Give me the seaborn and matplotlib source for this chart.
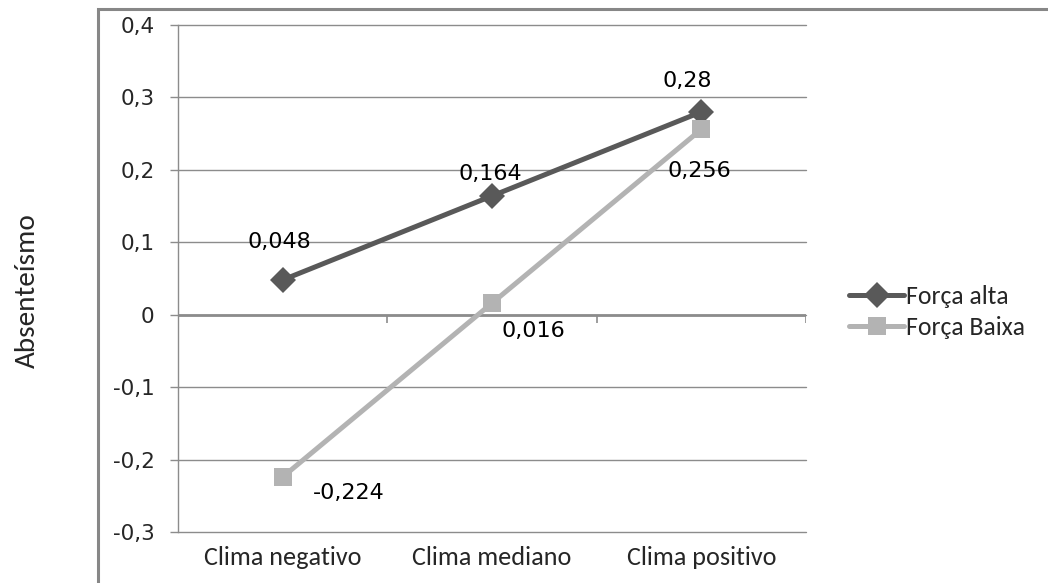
import matplotlib
matplotlib.use("Agg")
import matplotlib.pyplot as plt
from matplotlib.patches import Rectangle
import seaborn as sns
import pandas as pd

categories = ["Clima negativo", "Clima mediano", "Clima positivo"]
forca_alta = [0.048, 0.164, 0.28]
forca_baixa = [-0.224, 0.016, 0.256]
series_names = ["Força alta", "Força Baixa"]
y_ticks = [-0.3, -0.2, -0.1, 0, 0.1, 0.2, 0.3, 0.4]
y_tick_labels = ["-0,3", "-0,2", "-0,1", "0", "0,1", "0,2", "0,3", "0,4"]
alta_labels = ["0,048", "0,164", "0,28"]
baixa_labels = ["-0,224", "0,016", "0,256"]

sns.set_theme(style="white")
plt.rcParams["font.family"] = ["DejaVu Sans"]
calib = ["Carlito", "Roboto", "DejaVu Sans"]

df = pd.DataFrame({
    "Clima": categories * 2,
    "Absenteísmo": forca_alta + forca_baixa,
    "Série": [series_names[0]] * 3 + [series_names[1]] * 3,
})

dark = "#595959"
light = "#b3b3b3"
grid = "#8c8c8c"

fig = plt.figure(figsize=(10.48, 5.83), dpi=100)
ax = fig.add_axes([178 / 1048, 1 - 532 / 583, (806 - 178) / 1048, (532 - 25) / 583])

sns.lineplot(data=df, x="Clima", y="Absenteísmo", hue="Série", style="Série",
             palette={series_names[0]: dark, series_names[1]: light},
             markers={series_names[0]: "D", series_names[1]: "s"},
             dashes=False, linewidth=3.6, markersize=13.5, markeredgewidth=0,
             sort=False, ax=ax, legend=True)

ax.set_xlim(-0.5, 2.5)
ax.set_ylim(-0.3, 0.4)
ax.set_yticks(y_ticks)
ax.set_yticklabels(y_tick_labels, fontsize=15.5)
ax.yaxis.grid(True, color=grid, linewidth=1)
for gl in ax.get_ygridlines():
    gl.set_clip_on(False)
ax.xaxis.grid(False)
ax.set_axisbelow(True)
for s in ["top", "right", "bottom"]:
    ax.spines[s].set_visible(False)
ax.spines["left"].set_color(grid)
ax.spines["left"].set_linewidth(1)
ax.tick_params(axis="y", left=True, length=6, width=1, color=grid, pad=11)
ax.tick_params(axis="x", bottom=False, length=0, pad=10)
for lbl in ax.get_xticklabels():
    lbl.set_fontfamily(calib)
    lbl.set_fontsize(18.8)
ax.axhline(0, color=grid, linewidth=2, zorder=1)
ax.vlines([0.5, 1.5, 2.5], -0.011, 0, color=grid, linewidth=1.2, zorder=1)
ax.set_xlabel("")
ax.set_ylabel("Absenteísmo", fontsize=21, fontfamily=calib, labelpad=0)
ax.yaxis.set_label_coords(-0.22, 0.477)

alta_off = [(-3, 38), (-2, 22), (-14, 31)]
baixa_off = [(66, -16), (41, -28), (-2, -42)]
for i, (v, t) in enumerate(zip(forca_alta, alta_labels)):
    ax.annotate(t, (categories[i], v), xytext=alta_off[i], textcoords="offset pixels",
                ha="center", va="center", fontsize=16, color="black")
for i, (v, t) in enumerate(zip(forca_baixa, baixa_labels)):
    ax.annotate(t, (categories[i], v), xytext=baixa_off[i], textcoords="offset pixels",
                ha="center", va="center", fontsize=16, color="black")

leg = ax.legend(loc="center left", bbox_to_anchor=(849 / 1048, 1 - 312 / 583),
                bbox_transform=fig.transFigure, frameon=False, handlelength=2.15,
                handletextpad=0.05, labelspacing=0.28, borderaxespad=0, borderpad=0,
                prop={"family": calib, "size": 18.5})

fig.patches.append(Rectangle((97.5 / 1048, -0.2), 1.2, 1.2 - 9 / 583,
                             transform=fig.transFigure, fill=False,
                             edgecolor="#878787", linewidth=2.2, zorder=0))

fig.savefig("out.png", dpi=100)
